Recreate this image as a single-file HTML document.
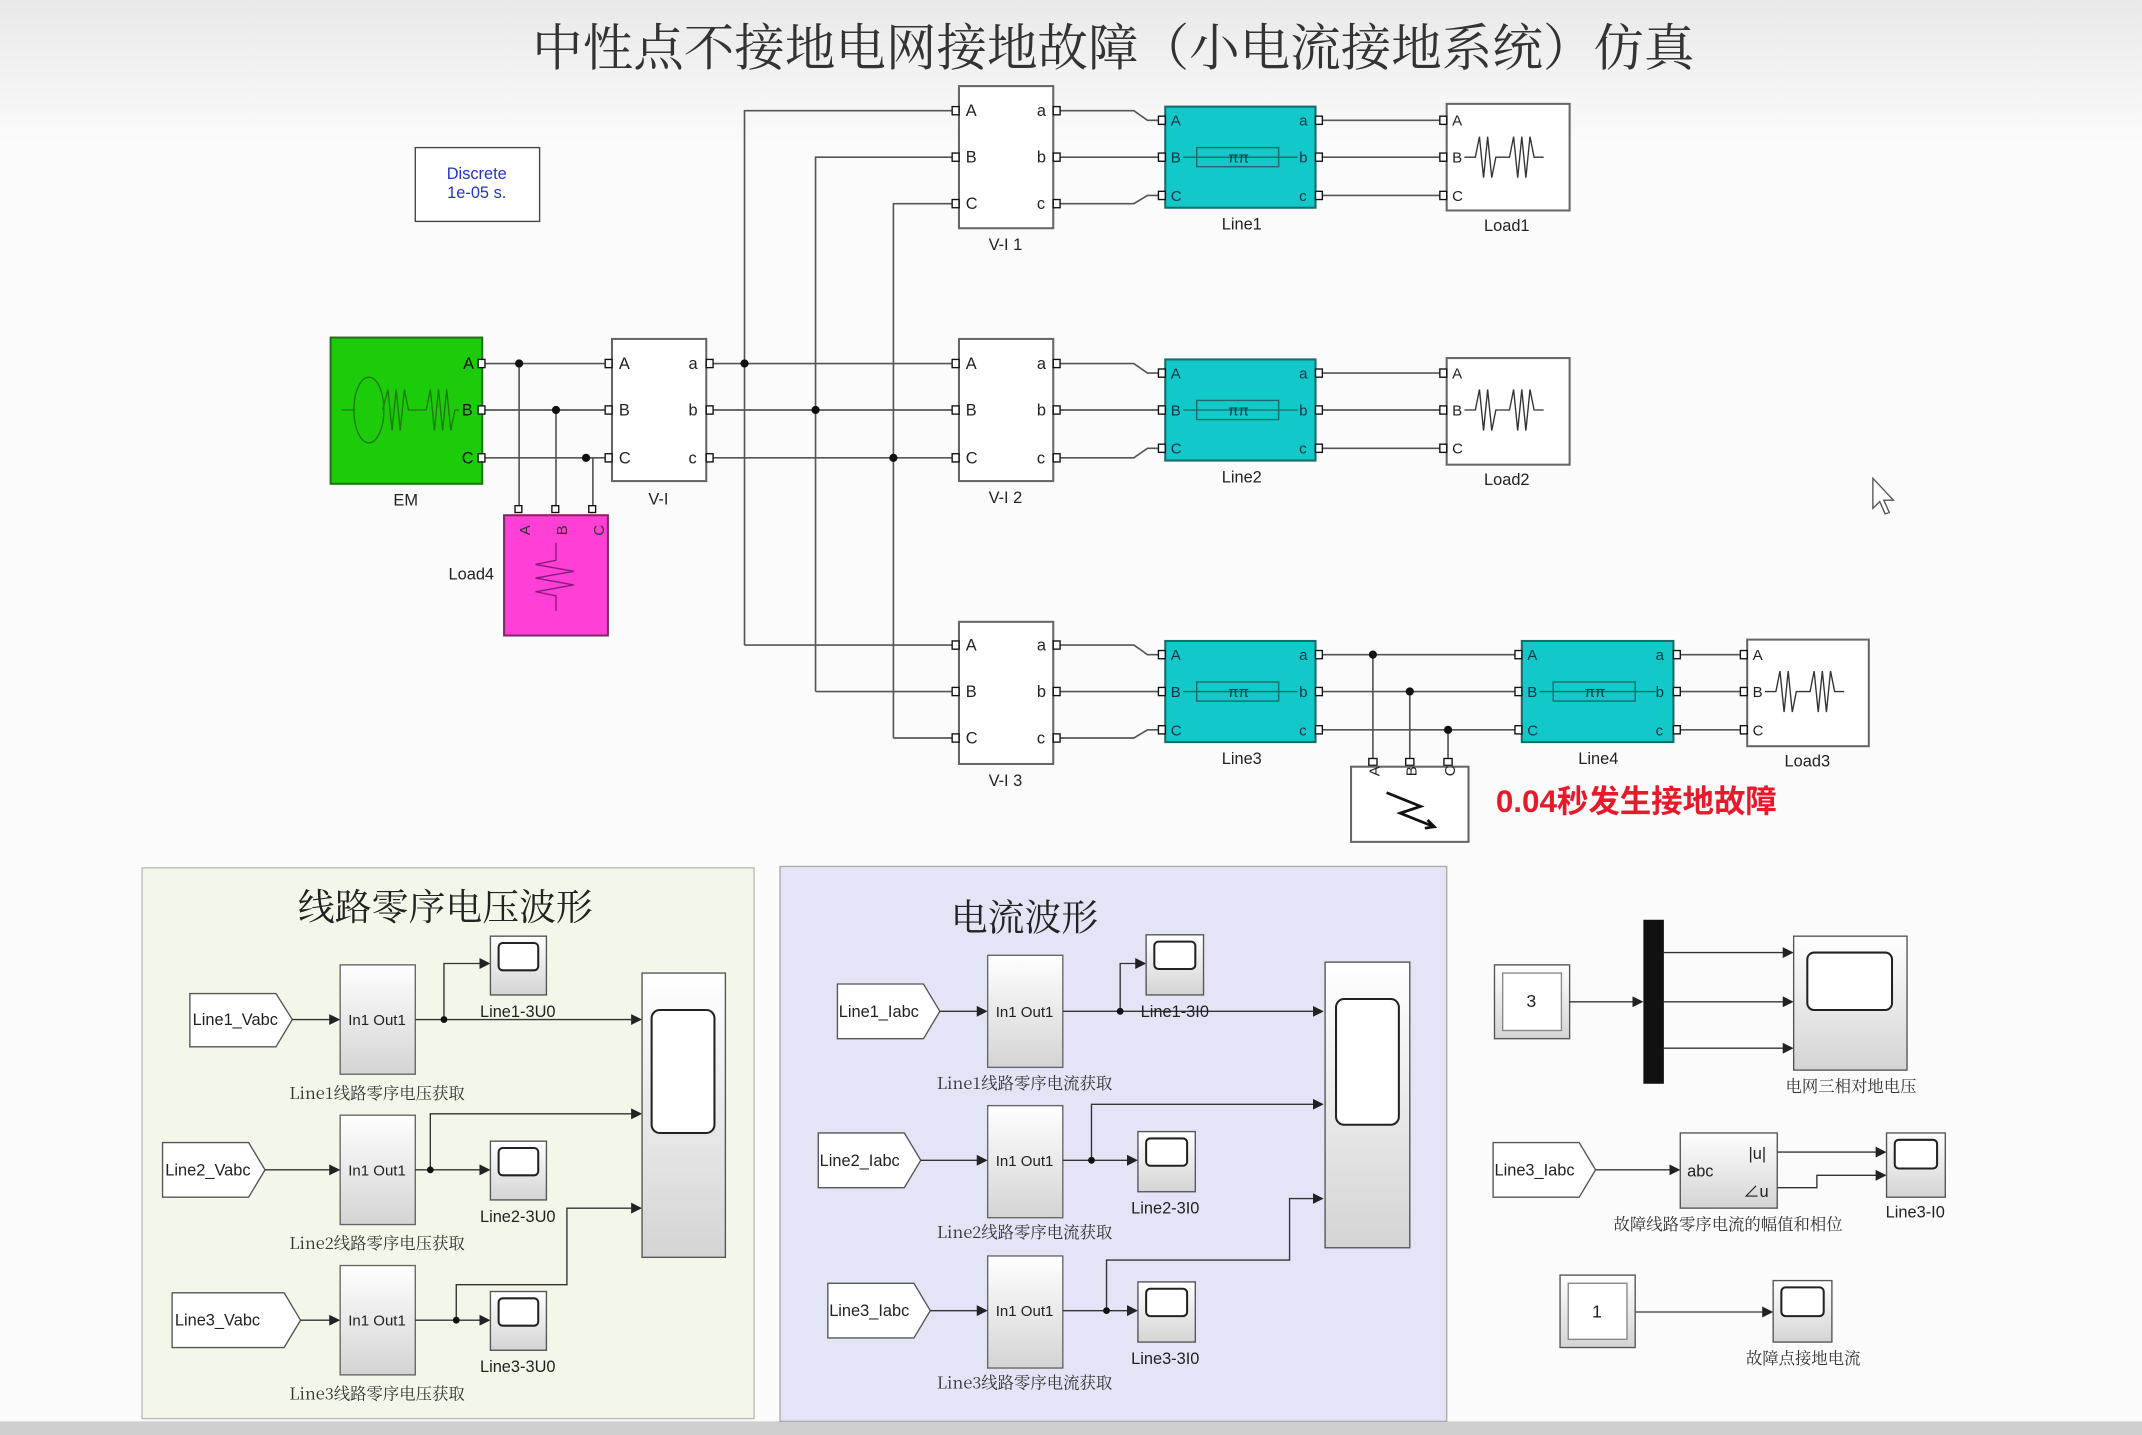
<!DOCTYPE html>
<html><head><meta charset="utf-8"><style>
html,body{margin:0;padding:0;background:#fafafa;}
svg{display:block;}
text{font-family:"Liberation Sans","Noto Sans CJK SC",sans-serif;}
.w{stroke:#555;stroke-width:1.2;fill:none;}
.lbl{font-size:12px;fill:#222;text-anchor:middle;}
.pl{font-size:12px;fill:#222;}
.cj{font-size:12px;fill:#333;text-anchor:middle;font-family:"Noto Serif CJK SC","Liberation Serif",serif;}
</style></head><body>
<svg width="2142" height="1435" viewBox="0 0 1568 1050" preserveAspectRatio="none" xmlns="http://www.w3.org/2000/svg">
<defs>
<linearGradient id="bg" x1="0" y1="0" x2="0" y2="1"><stop offset="0" stop-color="#e9e9e9"/><stop offset="0.1" stop-color="#fbfbfb"/><stop offset="1" stop-color="#fbfbfb"/></linearGradient>
<linearGradient id="sub" x1="0" y1="0" x2="0" y2="1"><stop offset="0" stop-color="#ffffff"/><stop offset="1" stop-color="#d4d4d4"/></linearGradient>
<marker id="ar" markerWidth="8" markerHeight="8" refX="7" refY="4" orient="auto" markerUnits="userSpaceOnUse"><path d="M0,0 L8,4 L0,8 z" fill="#222"/></marker>
</defs>
<rect width="1568" height="1050" fill="url(#bg)"/>
<rect y="1040" width="1568" height="10" fill="#cfcfcf"/>
<text x="815" y="48" font-size="37" fill="#333" text-anchor="middle" style="font-family:'Noto Serif CJK SC',serif">中性点不接地电网接地故障（小电流接地系统）仿真</text>

<!-- Discrete -->
<rect x="304" y="108" width="91" height="54" fill="#fff" stroke="#444"/>
<text x="349" y="131" font-size="12" fill="#2233cc" text-anchor="middle">Discrete</text>
<text x="349" y="145" font-size="12" fill="#2233cc" text-anchor="middle">1e-05 s.</text>

<g class="w">
<path d="M353,266 H448 M353,300 H448 M353,335 H448"/>
<path d="M380,266 V373 M407,300 V373 M429,335 H434 V373"/>
<path d="M517,266 H700 M517,300 H700 M517,335 H700"/>
<path d="M545,472 V81 H700 M545,472 H700"/>
<path d="M597,506 V115 H700 M597,506 H700"/>
<path d="M654,540 V149 H700 M654,540 H700"/>
<path d="M771,81 H830 L840,88 H853 M771,115 H853 M771,149 H830 L840,143 H853"/>
<path d="M771,266 H830 L840,273 H853 M771,300 H853 M771,335 H830 L840,328 H853"/>
<path d="M771,472 H830 L840,479 H853 M771,506 H853 M771,540 H830 L840,534 H853"/>
<path d="M963,88 H1059 M963,115 H1059 M963,143 H1059"/>
<path d="M963,273 H1059 M963,300 H1059 M963,328 H1059"/>
<path d="M963,479 H1114 M963,506 H1114 M963,534 H1114"/>
<path d="M1005,479 V557 M1032,506 V557 M1060,534 V557"/>
<path d="M1225,479 H1279 M1225,506 H1279 M1225,534 H1279"/>
</g>
<g fill="#111">
<circle cx="380" cy="266" r="3"/><circle cx="407" cy="300" r="3"/><circle cx="429" cy="335" r="3"/>
<circle cx="545" cy="266" r="3"/><circle cx="597" cy="300" r="3"/><circle cx="654" cy="335" r="3"/>
<circle cx="1005" cy="479" r="3"/><circle cx="1032" cy="506" r="3"/><circle cx="1060" cy="534" r="3"/>
</g>

<!-- EM -->
<rect x="242" y="247" width="111" height="107" fill="#1ccc0a" stroke="#2a6a20" stroke-width="1.5"/>
<g stroke="#207a10" fill="none" stroke-width="1"><ellipse cx="270" cy="300" rx="11" ry="24"/><path d="M250,300 H260 M280,300 L284,285 L287,315 L290,285 L293,315 L296,285 L299,300 H312 L315,285 L318,315 L321,285 L324,315 L327,285 L330,315 L333,300 H336"/></g>
<text x="339" y="270" font-size="12" fill="#111">A</text><text x="338" y="304" font-size="12" fill="#111">B</text><text x="338" y="339" font-size="12" fill="#111">C</text>
<text x="297" y="370" class="lbl">EM</text>

<!-- Load4 -->
<rect x="369" y="377" width="76" height="88" fill="#ff3fd6" stroke="#7a2a66" stroke-width="1.5"/>
<text x="384" y="392" font-size="11" fill="#333" transform="rotate(-90 384 388)" text-anchor="middle">A</text>
<text x="411" y="392" font-size="11" fill="#333" transform="rotate(-90 411 388)" text-anchor="middle">B</text>
<text x="438" y="392" font-size="11" fill="#333" transform="rotate(-90 438 388)" text-anchor="middle">C</text>
<path d="M407,397 V410 L392,413 L420,418 L392,423 L420,428 L392,433 L407,436 V447" stroke="#8a1a7a" fill="none"/>
<text x="345" y="424" class="lbl">Load4</text>
<g fill="#fff" stroke="#111"><rect x="377" y="370" width="5" height="5"/><rect x="404" y="370" width="5" height="5"/><rect x="431" y="370" width="5" height="5"/></g>

<g fill="#fff" stroke="#666" stroke-width="1.5">
<rect x="448" y="248" width="69" height="104"/>
<rect x="702" y="63" width="69" height="104"/>
<rect x="702" y="248" width="69" height="104"/>
<rect x="702" y="455" width="69" height="104"/>
</g>
<g font-size="12" fill="#222">
<text x="453" y="270">A</text><text x="453" y="304">B</text><text x="453" y="339">C</text><text x="504" y="270">a</text><text x="504" y="304">b</text><text x="504" y="339">c</text>
<text x="707" y="85">A</text><text x="707" y="119">B</text><text x="707" y="153">C</text><text x="759" y="85">a</text><text x="759" y="119">b</text><text x="759" y="153">c</text>
<text x="707" y="270">A</text><text x="707" y="304">B</text><text x="707" y="339">C</text><text x="759" y="270">a</text><text x="759" y="304">b</text><text x="759" y="339">c</text>
<text x="707" y="476">A</text><text x="707" y="510">B</text><text x="707" y="544">C</text><text x="759" y="476">a</text><text x="759" y="510">b</text><text x="759" y="544">c</text>
</g>
<text x="482" y="369" class="lbl">V-I</text>
<text x="736" y="183" class="lbl">V-I 1</text>
<text x="736" y="368" class="lbl">V-I 2</text>
<text x="736" y="575" class="lbl">V-I 3</text>

<g fill="#12c8c8" stroke="#1a6a6a" stroke-width="1.5">
<rect x="853" y="78" width="110" height="74"/><rect x="853" y="263" width="110" height="74"/>
<rect x="853" y="469" width="110" height="74"/><rect x="1114" y="469" width="111" height="74"/>
</g>
<g stroke="#1a6a6a" fill="none">
<path d="M866,115 H950 M876,108 h60 v14 h-60 z"/><path d="M866,300 H950 M876,293 h60 v14 h-60 z"/>
<path d="M866,506 H950 M876,499 h60 v14 h-60 z"/><path d="M1127,506 H1212 M1137,499 h60 v14 h-60 z"/>
</g>
<g font-size="11" fill="#134">
<text x="857" y="92">A</text><text x="857" y="119">B</text><text x="857" y="147">C</text><text x="951" y="92">a</text><text x="951" y="119">b</text><text x="951" y="147">c</text>
<text x="857" y="277">A</text><text x="857" y="304">B</text><text x="857" y="332">C</text><text x="951" y="277">a</text><text x="951" y="304">b</text><text x="951" y="332">c</text>
<text x="857" y="483">A</text><text x="857" y="510">B</text><text x="857" y="538">C</text><text x="951" y="483">a</text><text x="951" y="510">b</text><text x="951" y="538">c</text>
<text x="1118" y="483">A</text><text x="1118" y="510">B</text><text x="1118" y="538">C</text><text x="1212" y="483">a</text><text x="1212" y="510">b</text><text x="1212" y="538">c</text>
<text x="899" y="119">ππ</text><text x="899" y="304">ππ</text><text x="899" y="510">ππ</text><text x="1160" y="510">ππ</text>
</g>
<text x="909" y="168" class="lbl">Line1</text><text x="909" y="353" class="lbl">Line2</text>
<text x="909" y="559" class="lbl">Line3</text><text x="1170" y="559" class="lbl">Line4</text>

<g fill="#fff" stroke="#666" stroke-width="1.5">
<rect x="1059" y="76" width="90" height="78"/><rect x="1059" y="262" width="90" height="78"/><rect x="1279" y="468" width="89" height="78"/>
</g>
<g stroke="#333" fill="none">
<path d="M1072,115 H1080 L1083,100 L1086,130 L1089,100 L1092,130 L1095,115 H1105 L1108,100 L1111,130 L1114,100 L1117,130 L1120,100 L1123,115 H1130"/>
<path d="M1072,300 H1080 L1083,285 L1086,315 L1089,285 L1092,315 L1095,300 H1105 L1108,285 L1111,315 L1114,285 L1117,315 L1120,285 L1123,300 H1130"/>
<path d="M1292,506 H1300 L1303,491 L1306,521 L1309,491 L1312,521 L1315,506 H1325 L1328,491 L1331,521 L1334,491 L1337,521 L1340,491 L1343,506 H1350"/>
</g>
<g font-size="11" fill="#222">
<text x="1063" y="92">A</text><text x="1063" y="119">B</text><text x="1063" y="147">C</text>
<text x="1063" y="277">A</text><text x="1063" y="304">B</text><text x="1063" y="332">C</text>
<text x="1283" y="483">A</text><text x="1283" y="510">B</text><text x="1283" y="538">C</text>
</g>
<text x="1103" y="169" class="lbl">Load1</text><text x="1103" y="355" class="lbl">Load2</text><text x="1323" y="561" class="lbl">Load3</text>

<g fill="#fff" stroke="#111">
<rect x="350" y="263" width="5" height="6"/><rect x="350" y="297" width="5" height="6"/><rect x="350" y="332" width="5" height="6"/>
<rect x="443" y="263" width="5" height="6"/><rect x="443" y="297" width="5" height="6"/><rect x="443" y="332" width="5" height="6"/>
<rect x="517" y="263" width="5" height="6"/><rect x="517" y="297" width="5" height="6"/><rect x="517" y="332" width="5" height="6"/>
<rect x="697" y="78" width="5" height="6"/><rect x="697" y="112" width="5" height="6"/><rect x="697" y="146" width="5" height="6"/>
<rect x="771" y="78" width="5" height="6"/><rect x="771" y="112" width="5" height="6"/><rect x="771" y="146" width="5" height="6"/>
<rect x="697" y="263" width="5" height="6"/><rect x="697" y="297" width="5" height="6"/><rect x="697" y="332" width="5" height="6"/>
<rect x="771" y="263" width="5" height="6"/><rect x="771" y="297" width="5" height="6"/><rect x="771" y="332" width="5" height="6"/>
<rect x="697" y="469" width="5" height="6"/><rect x="697" y="503" width="5" height="6"/><rect x="697" y="537" width="5" height="6"/>
<rect x="771" y="469" width="5" height="6"/><rect x="771" y="503" width="5" height="6"/><rect x="771" y="537" width="5" height="6"/>
<rect x="1054" y="85" width="5" height="6"/><rect x="1054" y="112" width="5" height="6"/><rect x="1054" y="140" width="5" height="6"/>
<rect x="1054" y="270" width="5" height="6"/><rect x="1054" y="297" width="5" height="6"/><rect x="1054" y="325" width="5" height="6"/>
<rect x="1274" y="476" width="5" height="6"/><rect x="1274" y="503" width="5" height="6"/><rect x="1274" y="531" width="5" height="6"/>
<rect x="848" y="85" width="5" height="6"/><rect x="848" y="112" width="5" height="6"/><rect x="848" y="140" width="5" height="6"/>
<rect x="963" y="85" width="5" height="6"/><rect x="963" y="112" width="5" height="6"/><rect x="963" y="140" width="5" height="6"/>
<rect x="848" y="270" width="5" height="6"/><rect x="848" y="297" width="5" height="6"/><rect x="848" y="325" width="5" height="6"/>
<rect x="963" y="270" width="5" height="6"/><rect x="963" y="297" width="5" height="6"/><rect x="963" y="325" width="5" height="6"/>
<rect x="848" y="476" width="5" height="6"/><rect x="848" y="503" width="5" height="6"/><rect x="848" y="531" width="5" height="6"/>
<rect x="963" y="476" width="5" height="6"/><rect x="963" y="503" width="5" height="6"/><rect x="963" y="531" width="5" height="6"/>
<rect x="1109" y="476" width="5" height="6"/><rect x="1109" y="503" width="5" height="6"/><rect x="1109" y="531" width="5" height="6"/>
<rect x="1225" y="476" width="5" height="6"/><rect x="1225" y="503" width="5" height="6"/><rect x="1225" y="531" width="5" height="6"/>
<rect x="1002" y="555" width="6" height="5"/><rect x="1029" y="555" width="6" height="5"/><rect x="1057" y="555" width="6" height="5"/>
</g>

<rect x="989" y="561" width="86" height="55" fill="#fff" stroke="#666" stroke-width="1.5"/>
<text x="1009" y="575" font-size="11" fill="#222" transform="rotate(-90 1006 571)">A</text>
<text x="1036" y="575" font-size="11" fill="#222" transform="rotate(-90 1033 571)">B</text>
<text x="1064" y="575" font-size="11" fill="#222" transform="rotate(-90 1061 571)">C</text>
<path d="M1015,580 L1040,590 L1025,595 L1050,605 M1045,600 L1050,605 L1043,606" stroke="#111" stroke-width="2" fill="none"/>
<text x="1095" y="594" font-size="23" font-weight="bold" fill="#e8192a">0.04秒发生接地故障</text>

<path d="M1371,350 V372 L1376,367 L1380,376 L1383,375 L1379,366 L1386,366 Z" fill="#fff" stroke="#555"/>

<rect x="104" y="635" width="448" height="403" fill="#f3f7ea" stroke="#bbb"/>
<rect x="571" y="634" width="488" height="406" fill="#e4e4f7" stroke="#aaa"/>
<text x="326" y="673" font-size="27" fill="#222" text-anchor="middle" style="font-family:'Noto Serif CJK SC',serif">线路零序电压波形</text>
<text x="750" y="681" font-size="27" fill="#222" text-anchor="middle" style="font-family:'Noto Serif CJK SC',serif">电流波形</text>

<g fill="#fff" stroke="#555">
<path d="M139,727 H202 L214,746 L202,766 H139 Z"/>
<path d="M119,836 H182 L194,856 L182,876 H119 Z"/>
<path d="M126,946 H208 L220,966 L208,986 H126 Z"/>
</g>
<text x="141" y="750" class="pl">Line1_Vabc</text>
<text x="121" y="860" class="pl">Line2_Vabc</text>
<text x="128" y="970" class="pl">Line3_Vabc</text>
<g fill="url(#sub)" stroke="#666">
<rect x="249" y="706" width="55" height="80"/><rect x="249" y="816" width="55" height="80"/><rect x="249" y="926" width="55" height="80"/>
</g>
<g font-size="11" fill="#222" text-anchor="middle">
<text x="276" y="750">In1 Out1</text><text x="276" y="860">In1 Out1</text><text x="276" y="970">In1 Out1</text>
</g>
<g stroke="#333" fill="none" marker-end="url(#ar)">
<path d="M214,746 H248"/><path d="M194,856 H248"/><path d="M220,966 H248"/>
<path d="M304,746 H469"/><path d="M325,746 V705 H358"/>
<path d="M304,856 H358"/><path d="M315,856 V815 H469"/>
<path d="M304,966 H358"/><path d="M334,966 V940 H415 V884 H469"/>
</g>
<g fill="#111"><circle cx="325" cy="746" r="2.5"/><circle cx="315" cy="856" r="2.5"/><circle cx="334" cy="966" r="2.5"/></g>
<g fill="url(#sub)" stroke="#555">
<rect x="359" y="685" width="41" height="43"/><rect x="359" y="835" width="41" height="43"/><rect x="359" y="945" width="41" height="43"/>
<rect x="470" y="712" width="61" height="208"/>
</g>
<g fill="#fff" stroke="#222" stroke-width="1.5">
<rect x="365" y="690" width="29" height="20" rx="3"/><rect x="365" y="840" width="29" height="20" rx="3"/><rect x="365" y="950" width="29" height="20" rx="3"/>
<rect x="477" y="739" width="46" height="90" rx="6"/>
</g>
<text x="379" y="744" class="lbl">Line1-3U0</text>
<text x="379" y="894" class="lbl">Line2-3U0</text>
<text x="379" y="1004" class="lbl">Line3-3U0</text>
<text x="276" y="804" class="cj">Line1线路零序电压获取</text>
<text x="276" y="914" class="cj">Line2线路零序电压获取</text>
<text x="276" y="1024" class="cj">Line3线路零序电压获取</text>

<g fill="#fff" stroke="#555">
<path d="M613,720 H676 L688,740 L676,760 H613 Z"/>
<path d="M599,829 H662 L674,849 L662,869 H599 Z"/>
<path d="M606,939 H669 L681,959 L669,979 H606 Z"/>
</g>
<text x="614" y="744" class="pl">Line1_Iabc</text>
<text x="600" y="853" class="pl">Line2_Iabc</text>
<text x="607" y="963" class="pl">Line3_Iabc</text>
<g fill="url(#sub)" stroke="#666">
<rect x="723" y="699" width="55" height="82"/><rect x="723" y="809" width="55" height="82"/><rect x="723" y="919" width="55" height="82"/>
</g>
<g font-size="11" fill="#222" text-anchor="middle">
<text x="750" y="744">In1 Out1</text><text x="750" y="853">In1 Out1</text><text x="750" y="963">In1 Out1</text>
</g>
<g stroke="#333" fill="none" marker-end="url(#ar)">
<path d="M688,740 H722"/><path d="M674,849 H722"/><path d="M681,959 H722"/>
<path d="M778,740 H968"/><path d="M820,740 V705 H838"/>
<path d="M778,849 H832"/><path d="M799,849 V808 H968"/>
<path d="M778,959 H832"/><path d="M810,959 V922 H944 V877 H968"/>
</g>
<g fill="#111"><circle cx="820" cy="740" r="2.5"/><circle cx="799" cy="849" r="2.5"/><circle cx="810" cy="959" r="2.5"/></g>
<g fill="url(#sub)" stroke="#555">
<rect x="839" y="684" width="42" height="44"/><rect x="833" y="828" width="42" height="44"/><rect x="833" y="938" width="42" height="44"/>
<rect x="970" y="704" width="62" height="209"/>
</g>
<g fill="#fff" stroke="#222" stroke-width="1.5">
<rect x="845" y="689" width="30" height="20" rx="3"/><rect x="839" y="833" width="30" height="20" rx="3"/><rect x="839" y="943" width="30" height="20" rx="3"/>
<rect x="978" y="731" width="46" height="92" rx="6"/>
</g>
<text x="860" y="744" class="lbl">Line1-3I0</text>
<text x="853" y="888" class="lbl">Line2-3I0</text>
<text x="853" y="998" class="lbl">Line3-3I0</text>
<text x="750" y="797" class="cj">Line1线路零序电流获取</text>
<text x="750" y="906" class="cj">Line2线路零序电流获取</text>
<text x="750" y="1016" class="cj">Line3线路零序电流获取</text>

<rect x="1094" y="706" width="55" height="54" fill="url(#sub)" stroke="#555"/>
<rect x="1100" y="712" width="43" height="42" fill="#fff" stroke="#888"/>
<text x="1121" y="737" font-size="13" fill="#222" text-anchor="middle">3</text>
<rect x="1203" y="673" width="15" height="120" fill="#111"/>
<g stroke="#333" fill="none" marker-end="url(#ar)">
<path d="M1149,733 H1202"/>
<path d="M1218,697 H1312"/>
<path d="M1218,733 H1312"/>
<path d="M1218,767 H1312"/>
<path d="M1168,856 H1229"/>
<path d="M1301,843 H1380"/><path d="M1301,869 H1330 V860 H1380"/>
<path d="M1197,960 H1297"/>
</g>
<rect x="1313" y="685" width="83" height="98" fill="url(#sub)" stroke="#555"/>
<rect x="1323" y="697" width="62" height="42" rx="5" fill="#fff" stroke="#222" stroke-width="1.5"/>
<text x="1355" y="799" class="cj">电网三相对地电压</text>
<path d="M1093,836 H1156 L1168,856 L1156,876 H1093 Z" fill="#fff" stroke="#555"/>
<text x="1094" y="860" class="pl">Line3_Iabc</text>
<rect x="1230" y="829" width="71" height="55" fill="url(#sub)" stroke="#555"/>
<text x="1235" y="861" font-size="12" fill="#222">abc</text>
<text x="1280" y="848" font-size="12" fill="#222">|u|</text>
<text x="1276" y="876" font-size="12" fill="#222">∠u</text>
<rect x="1381" y="829" width="43" height="47" fill="url(#sub)" stroke="#555"/>
<rect x="1387" y="834" width="31" height="21" rx="3" fill="#fff" stroke="#222" stroke-width="1.5"/>
<text x="1265" y="900" class="cj">故障线路零序电流的幅值和相位</text>
<text x="1402" y="891" class="lbl">Line3-I0</text>
<rect x="1142" y="933" width="55" height="53" fill="url(#sub)" stroke="#555"/>
<rect x="1148" y="939" width="43" height="41" fill="#fff" stroke="#888"/>
<text x="1169" y="964" font-size="13" fill="#222" text-anchor="middle">1</text>
<rect x="1298" y="937" width="43" height="45" fill="url(#sub)" stroke="#555"/>
<rect x="1304" y="942" width="31" height="21" rx="3" fill="#fff" stroke="#222" stroke-width="1.5"/>
<text x="1320" y="998" class="cj">故障点接地电流</text>
</svg>
</body></html>
